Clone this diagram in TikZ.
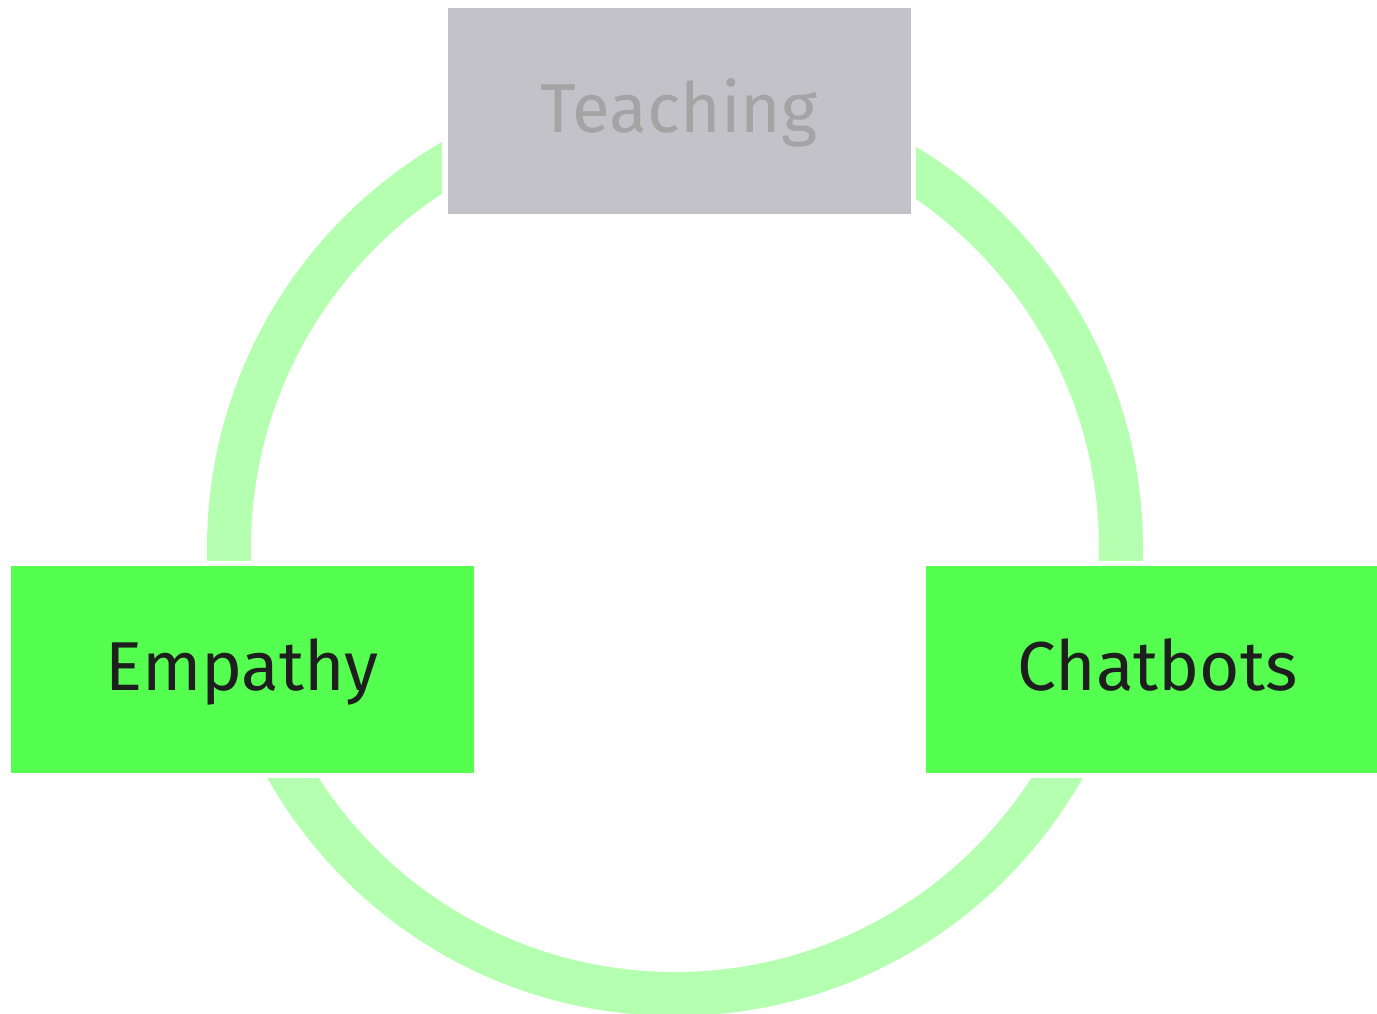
\documentclass[tikz,border=0pt]{standalone}
\usepackage{fontspec}
\setmainfont{Fira Sans}
\definecolor{ringgreen}{HTML}{B5FFB1}
\definecolor{boxgreen}{HTML}{55FF4F}
\definecolor{teachgray}{HTML}{C3C2C8}
\definecolor{teachtext}{HTML}{A4A4A4}
\definecolor{labeldark}{HTML}{1E1E1E}

\begin{document}
\begin{tikzpicture}[x=0.5pt,y=-0.5pt]
    \tikzstyle{topic}=[rectangle,draw=white,line width=2.7pt,minimum width=234.2pt,minimum height=106pt,inner sep=0pt,
        font=\fontsize{34.6}{40}\selectfont,text height=24pt,text depth=2.7pt]
    \useasboundingbox (0,0) rectangle (1377,1013);

    \coordinate (hub) at (675,548);
    \draw[ringgreen,line width=22pt] (hub) circle[radius=446];

    \node[topic,fill=teachgray,text=teachtext] (teaching) at (679,111) {Teaching};
    \foreach \name/\word/\x in {empathy/Empathy/242, chatbots/Chatbots/1157.5}
        \node[topic,fill=boxgreen,text=labeldark] (\name) at (\x,669.5) {\word};
\end{tikzpicture}
\end{document}
